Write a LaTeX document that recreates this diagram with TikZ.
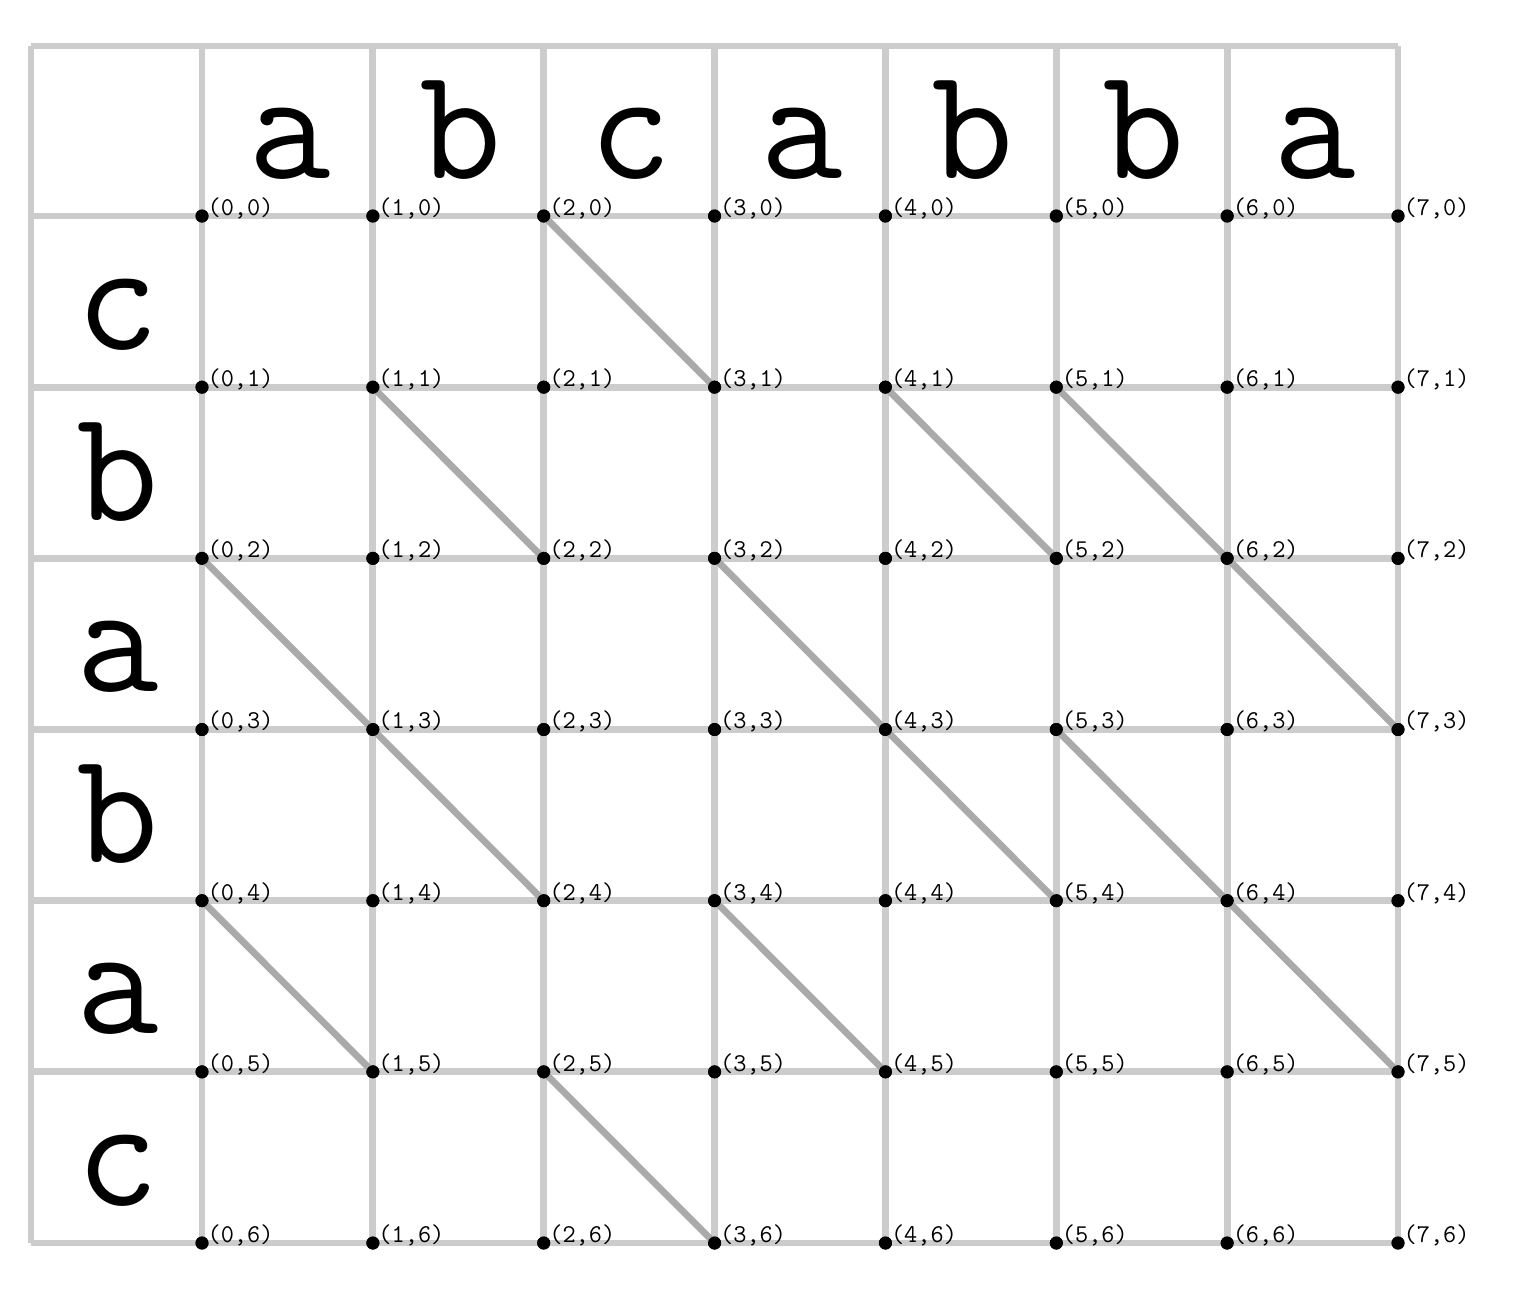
\documentclass[tikz,border=0pt]{standalone}
\usepackage{fontspec}
\begin{document}
\begin{tikzpicture}[x=0.5pt,y=-0.5pt,
  gridline/.style={line width=3.4pt,draw={rgb,255:red,204;green,204;blue,204}},
  matchline/.style={line width=3.4pt,draw={rgb,255:red,170;green,170;blue,170}},
  gdot/.style={circle,fill=black,inner sep=0pt,minimum size=6.5pt},
  glabel/.style={font=\ttfamily\fontsize{12.8}{12.8}\selectfont,anchor=base west,inner sep=0pt},
  bigletter/.style={font=\ttfamily\fontsize{80}{80}\selectfont,anchor=base,inner sep=0pt}]
\useasboundingbox (0,0) rectangle (1532,1292);
% grid lines
\draw[gridline] (31,46) -- (1398,46);
\draw[gridline] (31,46) -- (31,1243);
\foreach \i in {0,...,7} {
  \draw[gridline] ({202+170.86*\i},46) -- ({202+170.86*\i},1243);
}
\foreach \j in {0,...,6} {
  \draw[gridline] (31,{216+171.17*\j}) -- (1398,{216+171.17*\j});
}
% letters
\foreach \c [count=\k] in {a,b,c,a,b,b,a} {
  \node[bigletter] (top\k) at ({202+170.86*(\k-0.5)+2},178) {\c};
}
\foreach \c [count=\k] in {c,b,a,b,a,c} {
  \node[bigletter] (left\k) at (118,{216+171.17*\k-38}) {\c};
}
% dots
\foreach \i in {0,...,7} {
  \foreach \j in {0,...,6} {
    \node[gdot] (p-\i-\j) at ({202+170.86*\i},{216+171.17*\j}) {};
  }
}
% matches
\foreach \a/\b/\c/\d in {2/0/3/1, 1/1/2/2, 4/1/5/2, 5/1/6/2, 0/2/1/3, 3/2/4/3, 6/2/7/3, 1/3/2/4, 4/3/5/4, 5/3/6/4, 0/4/1/5, 3/4/4/5, 6/4/7/5, 2/5/3/6} {
  \draw[matchline] (p-\a-\b.center) -- (p-\c-\d.center);
}
\foreach \i in {0,...,7} {
  \foreach \j in {0,...,6} {
    \node[gdot] at (p-\i-\j) {};
    \node[glabel] (l-\i-\j) at ([xshift=2.6pt,yshift=0.3pt]p-\i-\j.center) {(\i,\j)};
  }
}
\end{tikzpicture}
\end{document}
